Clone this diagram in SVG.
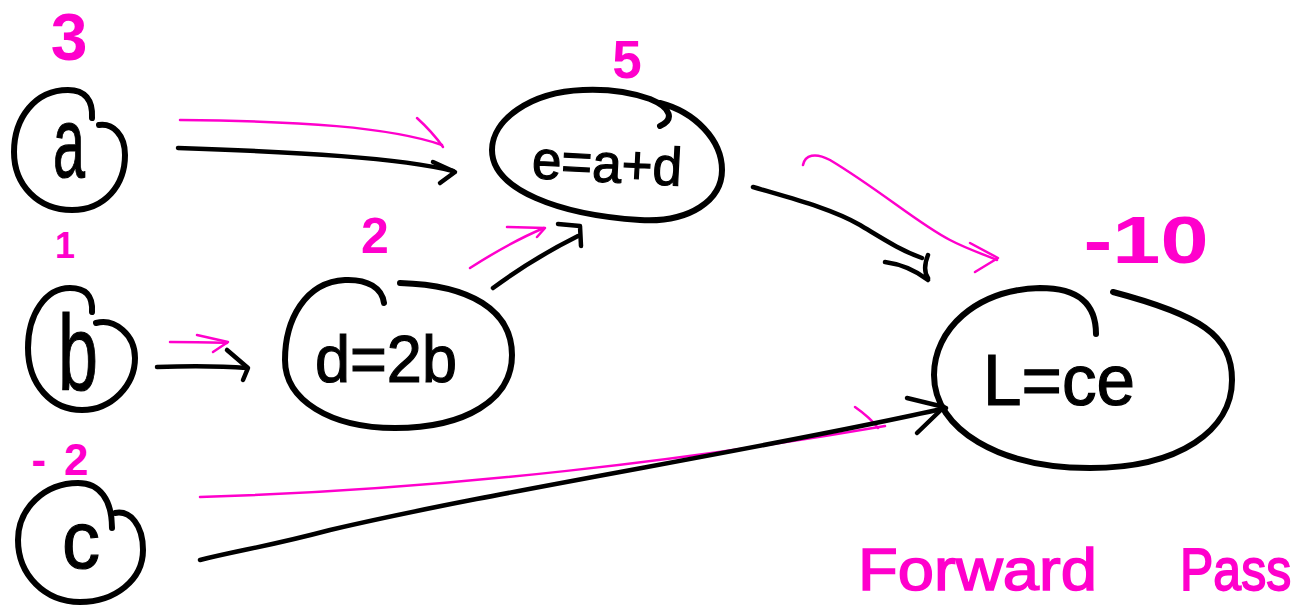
<svg xmlns="http://www.w3.org/2000/svg" width="1296" height="606" viewBox="0 0 1296 606">
<style>
.node{fill:none;stroke:#000;stroke-width:6;stroke-linecap:round;stroke-linejoin:round}
.lbl{font-family:"Liberation Sans",Arial,sans-serif;fill:#000;stroke:#000;stroke-width:1.2;text-anchor:middle}
.val{font-family:"Liberation Sans",Arial,sans-serif;font-weight:bold;fill:#ff00cc;text-anchor:middle}
.ttl{font-family:"Liberation Sans",Arial,sans-serif;font-weight:normal;fill:#ff00cc;stroke:#ff00cc;stroke-width:1.5;text-anchor:start}
.pk{fill:none;stroke:#ff00cc;stroke-width:2.5;stroke-linecap:round;stroke-linejoin:round}
.bk{fill:none;stroke:#000;stroke-width:4.5;stroke-linecap:round;stroke-linejoin:round}
</style>
<rect width="1296" height="606" fill="#fff"/>

<g id="connectors">
  <!-- a -> e -->
  <path class="pk" d="M180,120 C300,121 390,127 442,145"/>
  <path class="pk" d="M417,118 C428,128 436,137 443,147"/>
  <path class="bk" d="M178,148 C300,152 400,158 453,171"/>
  <path class="bk" d="M433,162 L455,172 L440,183"/>
  <!-- b -> d -->
  <path class="pk" d="M170,342 C190,342 210,342 227,343"/>
  <path class="pk" d="M197,335 L228,342 L213,352"/>
  <path class="bk" d="M157,367 C190,366 220,366 247,368"/>
  <path class="bk" d="M227,350 L248,368 L243,380"/>
  <!-- d -> e -->
  <path class="pk" d="M470,268 C495,252 520,238 544,228"/>
  <path class="pk" d="M507,227 L545,228 L537,237"/>
  <path class="bk" d="M493,288 C520,268 550,250 578,236"/>
  <path class="bk" d="M558,224 L580,226 L581,246"/>
  <!-- e -> L -->
  <path class="pk" d="M803,165 C805,155 815,152 830,160 C880,190 920,225 950,240 C965,248 985,255 997,260"/>
  <path class="pk" d="M970,243 L998,258 L975,272"/>
  <path class="bk" d="M753,187 C790,198 830,208 860,225 C885,240 900,250 922,258"/>
  <path class="bk" d="M885,262 C900,264 915,270 928,280 M928,255 C924,265 924,272 928,278"/>
  <!-- c -> L -->
  <path class="pk" d="M200,497 C450,490 700,458 885,426"/>
  <path class="pk" d="M855,407 C865,414 872,420 878,428"/>
  <path class="bk" d="M200,560 C240,550 270,546 330,530 C500,490 760,450 946,408"/>
  <path class="bk" d="M907,398 L944,407 L917,433"/>
</g>

<g id="node-a">
  <path class="node" d="M92,118 C93,100 85,90 68,90 C35,90 14,118 14,152 C14,185 38,210 72,210 C105,210 125,185 125,155 C125,135 113,123 99,125"/>
  <text class="lbl" x="69" y="177" font-size="100" textLength="32" lengthAdjust="spacingAndGlyphs">a</text>
  <text class="val" x="69" y="60" font-size="66">3</text>
</g>

<g id="node-b">
  <path class="node" d="M92,312 C93,295 85,288 70,288 C45,288 28,315 28,348 C28,385 52,410 82,410 C112,410 135,385 135,358 C135,335 115,318 96,323"/>
  <text class="lbl" x="78" y="390" font-size="108" textLength="40" lengthAdjust="spacingAndGlyphs">b</text>
  <text class="val" x="65" y="258" font-size="36">1</text>
</g>

<g id="node-c">
  <path class="node" d="M112,528 C112,500 100,483 78,483 C45,483 18,508 18,540 C18,575 45,602 80,602 C115,602 143,580 143,550 C143,525 130,510 115,513"/>
  <text class="lbl" x="81" y="568" font-size="82" textLength="38" lengthAdjust="spacingAndGlyphs">c</text>
  <text class="val" x="60" y="475" font-size="44">-<tspan dx="18">2</tspan></text>
</g>

<g id="node-d">
  <path class="node" d="M384,303 C382,288 368,279 345,280 C305,282 285,320 285,360 C285,400 330,428 395,428 C465,428 512,400 512,355 C512,310 470,285 400,283"/>
  <text class="lbl" x="386" y="382" font-size="66" textLength="142" lengthAdjust="spacingAndGlyphs">d=2b</text>
  <text class="val" x="375" y="253" font-size="50">2</text>
</g>

<g id="node-e">
  <path class="node" d="M660,126 C674,120 672,108 650,99 C630,92 605,89 583,90 C530,92 492,120 492,150 C492,190 560,215 640,220 C690,223 722,200 722,170 C722,140 695,112 660,103"/>
  <text class="lbl" x="607" y="182" font-size="54" textLength="150" lengthAdjust="spacingAndGlyphs" transform="rotate(3 607 165)">e=a+d</text>
  <text class="val" x="627" y="78" font-size="53">5</text>
</g>

<g id="node-L">
  <path class="node" d="M1096,334 C1096,305 1080,288 1040,288 C975,290 934,330 934,375 C934,430 1000,468 1090,468 C1180,468 1232,430 1232,380 C1232,335 1200,315 1113,292"/>
  <text class="lbl" x="1059" y="405" font-size="72" textLength="152" lengthAdjust="spacingAndGlyphs">L=ce</text>
  <text class="val" x="1146" y="263" font-size="66" textLength="125" lengthAdjust="spacingAndGlyphs">-10</text>
</g>

<g id="title">
  <text class="ttl" x="858" y="590" font-size="60" textLength="239" lengthAdjust="spacingAndGlyphs">Forward</text>
  <text class="ttl" transform="translate(1180,590) scale(1,1.2)" font-size="50">Pass</text>
</g>
</svg>
